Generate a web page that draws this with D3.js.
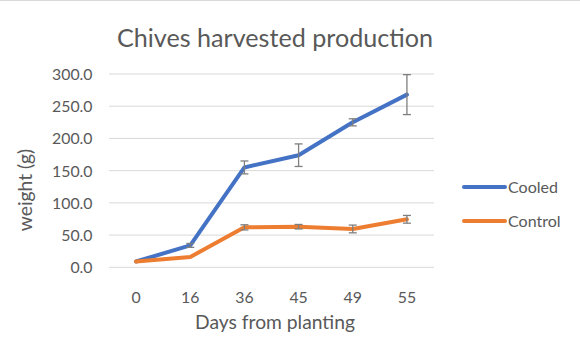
<!DOCTYPE html>
<html><head><meta charset="utf-8">
<script src="https://cdn.jsdelivr.net/npm/d3@7"></script>
<style>body{margin:0;background:#fff;font-family:Lato,sans-serif;}</style>
</head><body>
<svg id="c" width="580" height="355"></svg>
<script>
const days = ["0","16","36","45","49","55"];
const cooled = [9, 34, 155, 174, 225, 268];
const cooledErr = [0, 3, 10, 17.5, 5.5, 31];
const control = [9, 16, 62, 63, 59.5, 74.5];
const controlErr = [0, 0, 4, 3.5, 6, 6];
const yTicks = [0, 50, 100, 150, 200, 250, 300];
const seriesNames = ["Cooled", "Control"];
const colors = ["#4472C4", "#ED7D31"];

const FONT = "Lato";
const txt = "#595959";
const svg = d3.select("#c");
svg.append("rect").attr("width",580).attr("height",355).attr("fill","#fff");
svg.append("line").attr("x1",0).attr("x2",580).attr("y1",0.5).attr("y2",0.5).attr("stroke","#d9d9d9");

// size a font so that a sample string has the wanted width
function fitSize(sample, width) {
  const t = svg.append("text").style("font-family",FONT).style("font-size","20px").text(sample);
  const w = t.node().getComputedTextLength();
  t.remove();
  return 20 * width / w;
}
const tickSize = fitSize("300.0", 40.5);
const titleSize = fitSize("Chives harvested production", 316);
const axTitleSize = fitSize("Days from planting", 160);
const legSize = fitSize("Cooled", 50);

const x = d3.scaleBand().domain(days).range([109, 434]);
const y = d3.scaleLinear().domain([0, 300]).range([267.3, 74]);

svg.append("g").selectAll("line").data(yTicks).join("line")
  .attr("x1",109).attr("x2",434)
  .attr("y1",d=>y(d)).attr("y2",d=>y(d))
  .attr("stroke","#d9d9d9").attr("stroke-width",1);

const yAxis = d3.axisLeft(y).tickValues(yTicks).tickFormat(d3.format(".1f")).tickSize(0).tickPadding(0);
const ga = svg.append("g").attr("transform","translate(92.5,0)").call(yAxis);
ga.select(".domain").remove();
ga.selectAll("text").attr("fill",txt).attr("dy","0.35em").style("font-size",tickSize+"px").style("font-family",FONT);

const xAxis = d3.axisBottom(x).tickSize(0).tickPadding(0);
const gx = svg.append("g").attr("transform","translate(0,297)").call(xAxis);
gx.select(".domain").remove();
gx.selectAll("text").attr("fill",txt).attr("dy","0.35em").style("font-size",tickSize+"px").style("font-family",FONT);

const cx = d => x(d) + x.bandwidth()/2;
const data = [cooled, control];
const errs = [cooledErr, controlErr];

data.forEach((vals, i) => {
  const line = d3.line().x((v,j)=>cx(days[j])).y(v=>y(v));
  svg.append("path").datum(vals).attr("d", line).attr("fill","none")
    .attr("stroke",colors[i]).attr("stroke-width",4).attr("stroke-linejoin","round").attr("stroke-linecap","round");
});
data.forEach((vals, i) => {
  const g = svg.append("g").attr("stroke","#7f7f7f").attr("stroke-width",1.3);
  vals.forEach((v,j) => {
    const e = errs[i][j];
    if (!e) return;
    const xx = cx(days[j]);
    g.append("line").attr("x1",xx).attr("x2",xx).attr("y1",y(v+e)).attr("y2",y(v-e));
    g.append("line").attr("x1",xx-4).attr("x2",xx+4).attr("y1",y(v+e)).attr("y2",y(v+e));
    g.append("line").attr("x1",xx-4).attr("x2",xx+4).attr("y1",y(v-e)).attr("y2",y(v-e));
  });
});

svg.append("text").attr("x",275).attr("y",38).attr("dy","0.35em").attr("text-anchor","middle")
  .attr("fill",txt).style("font-family",FONT).style("font-size",titleSize+"px").text("Chives harvested production");
svg.append("text").attr("x",275).attr("y",322).attr("dy","0.35em").attr("text-anchor","middle")
  .attr("fill",txt).style("font-family",FONT).style("font-size",axTitleSize+"px").text("Days from planting");
svg.append("text").attr("transform","translate(25,190) rotate(-90)").attr("dy","0.35em").attr("text-anchor","middle")
  .attr("fill",txt).style("font-family",FONT).style("font-size",axTitleSize+"px").text("weight (g)");

const leg = svg.append("g");
seriesNames.forEach((n,i) => {
  const yy = 187 + i*34;
  leg.append("line").attr("x1",464).attr("x2",505).attr("y1",yy).attr("y2",yy)
    .attr("stroke",colors[i]).attr("stroke-width",4).attr("stroke-linecap","round");
  leg.append("text").attr("x",508).attr("y",yy).attr("dy","0.35em").attr("fill",txt)
    .style("font-family",FONT).style("font-size",legSize+"px").text(n);
});
</script>
</body></html>
